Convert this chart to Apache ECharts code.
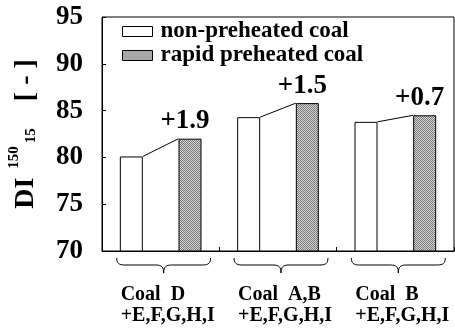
<!DOCTYPE html>
<html>
<head>
<meta charset="utf-8">
<script src="https://cdn.jsdelivr.net/npm/echarts@6/dist/echarts.min.js"></script>
<style>
  html, body { margin: 0; padding: 0; background: #fff; }
  #chart { width: 455px; height: 329px; }
</style>
</head>
<body>
<div id="chart"></div>
<script>
// DI(150/15) drum index of the coke, per coal blend
const blendNames = ['D', 'A,B', 'B'];
const blendSuffix = '+E,F,G,H,I';
const nonPreheated = [80.1, 84.3, 83.8];
const rapidPreheated = [82.0, 85.8, 84.5];
const seriesNames = ['non-preheated coal', 'rapid preheated coal'];
const yTicks = { min: 70, max: 95, step: 5 };

const FONT = '"Liberation Serif", "Times New Roman", serif';
const BAR_W = 23;

// one slot per bar: [non, rapid, non, rapid, ...]
const slots = [];
const whiteData = [];
const grayData = [];
blendNames.forEach((n, i) => {
  slots.push(n + ' non', n + ' rapid');
  whiteData.push(nonPreheated[i], '-');
  grayData.push('-', rapidPreheated[i]);
});

// stippled grey fill
function stipple() {
  const c = document.createElement('canvas');
  c.width = 4; c.height = 4;
  const g = c.getContext('2d');
  g.fillStyle = '#d4d4d4';
  g.fillRect(0, 0, 4, 4);
  g.fillStyle = '#7a7a7a';
  for (let y = 0; y < 4; y++) {
    for (let x = 0; x < 4; x++) {
      if ((x + y) % 2 === 0) g.fillRect(x, y, 1, 1);
    }
  }
  return c;
}
const grayFill = { image: stipple(), repeat: 'repeat' };

const chart = echarts.init(document.getElementById('chart'), null, { renderer: 'canvas' });

const option = {
  animation: false,
  backgroundColor: '#fff',
  grid: {
    left: 102, right: 1, top: 17, bottom: 78,
    containLabel: false,
    outerBoundsMode: 'none',
    show: true, borderColor: '#000', borderWidth: 1, backgroundColor: 'transparent'
  },
  legend: {
    data: seriesNames,
    orient: 'vertical',
    left: 117, top: 15,
    itemWidth: 30, itemHeight: 10,
    itemGap: 1,
    icon: 'rect',
    textStyle: { fontFamily: FONT, fontWeight: 'bold', fontSize: 23, lineHeight: 23, color: '#000', padding: [0, 0, 0, 3] },
    itemStyle: { borderColor: '#000', borderWidth: 1 }
  },
  xAxis: [
    {
      type: 'category',
      data: slots,
      boundaryGap: true,
      axisLine: { lineStyle: { color: '#000', width: 1 } },
      axisTick: { show: true, inside: true, length: 4, lineStyle: { color: '#000' } },
      axisLabel: { show: false }
    },
    {
      type: 'category',
      data: blendNames,
      position: 'bottom',
      axisLine: { show: false },
      axisTick: { show: false },
      axisLabel: {
        interval: 0,
        margin: 33,
        formatter: (v) => '{a|Coal  ' + v + '}\n{a|' + blendSuffix + '}',
        rich: {
          a: { fontFamily: FONT, fontWeight: 'bold', fontSize: 20, color: '#000', width: 92, align: 'left', lineHeight: 21, padding: [0, 0, 0, 12] }
        }
      }
    }
  ],
  yAxis: {
    type: 'value',
    min: yTicks.min, max: yTicks.max, interval: yTicks.step,
    axisLine: { show: true, lineStyle: { color: '#000', width: 1 } },
    axisTick: { show: true, inside: true, length: 4, lineStyle: { color: '#000' } },
    splitLine: { show: false },
    axisLabel: { fontFamily: FONT, fontWeight: 'bold', fontSize: 27, color: '#000', margin: 19 },
    name: '{b|DI}{sup|150}{sub|15}{br|[ - ]}',
    nameLocation: 'middle',
    nameRotate: 90,
    nameGap: 48,
    nameTextStyle: {
      rich: {
        b: { fontFamily: FONT, fontWeight: 'bold', fontSize: 28, color: '#000', lineHeight: 38 },
        br: { fontFamily: FONT, fontWeight: 'bold', fontSize: 28, color: '#000', lineHeight: 38, padding: [0, 0, 0, 27] },
        sup: { fontFamily: FONT, fontWeight: 'bold', fontSize: 15, color: '#000', verticalAlign: 'top', lineHeight: 14, padding: [0, 0, 0, 9] },
        sub: { fontFamily: FONT, fontWeight: 'bold', fontSize: 15, color: '#000', verticalAlign: 'bottom', lineHeight: 14, padding: [0, 0, 6, 3] }
      }
    }
  },
  series: [
    {
      name: seriesNames[0],
      type: 'bar',
      data: whiteData,
      barWidth: BAR_W,
      barGap: '-100%',
      itemStyle: { color: '#fff', borderColor: '#000', borderWidth: 1 }
    },
    {
      name: seriesNames[1],
      type: 'bar',
      data: grayData,
      barWidth: BAR_W,
      barGap: '-100%',
      itemStyle: { color: grayFill, borderColor: '#000', borderWidth: 1 },
      label: {
        show: true,
        position: 'top',
        distance: 4,
        offset: [-5, 0],
        fontFamily: FONT, fontWeight: 'bold', fontSize: 27, color: '#000',
        formatter: (p) => {
          const g = (p.dataIndex - 1) / 2;
          return '+' + (rapidPreheated[g] - nonPreheated[g]).toFixed(1);
        }
      }
    },
    {
      // connectors from the top-right of each plain bar to the top-left of its preheated bar
      type: 'custom',
      data: blendNames.map((_, i) => [i]),
      silent: true,
      z: 5,
      renderItem: (params, api) => {
        const g = api.value(0);
        const a = api.coord([2 * g, nonPreheated[g]]);
        const b = api.coord([2 * g + 1, rapidPreheated[g]]);
        return {
          type: 'line',
          shape: { x1: a[0] + BAR_W / 2, y1: a[1], x2: b[0] - BAR_W / 2, y2: b[1] },
          style: { stroke: '#000', lineWidth: 1 }
        };
      }
    },
    {
      // curly braces grouping each pair of bars under the axis
      type: 'custom',
      data: blendNames.map((_, i) => [i]),
      silent: true,
      clip: false,
      renderItem: (params, api) => {
        const g = api.value(0);
        const a = api.coord([2 * g, yTicks.min]);
        const b = api.coord([2 * g + 1, yTicks.min]);
        const cx = (a[0] + b[0]) / 2 + 3;
        const half = (b[0] - a[0]) * 0.8;
        const L = cx - half, R = cx + half;
        const y0 = a[1] + 7, ym = y0 + 7, yt = y0 + 15;
        const d = [
          'M', L, y0,
          'C', L, ym - 2, L + 2, ym, L + 8, ym,
          'L', cx - 8, ym,
          'C', cx - 2, ym, cx, ym + 2, cx, yt,
          'C', cx, ym + 2, cx + 2, ym, cx + 8, ym,
          'L', R - 8, ym,
          'C', R - 2, ym, R, ym - 2, R, y0
        ].join(' ');
        return {
          type: 'path',
          shape: { pathData: d, x: L, y: y0, width: R - L, height: yt - y0, layout: 'cover' },
          style: { stroke: '#000', lineWidth: 1, fill: null }
        };
      }
    }
  ]
};

chart.setOption(option);
</script>
</body>
</html>
